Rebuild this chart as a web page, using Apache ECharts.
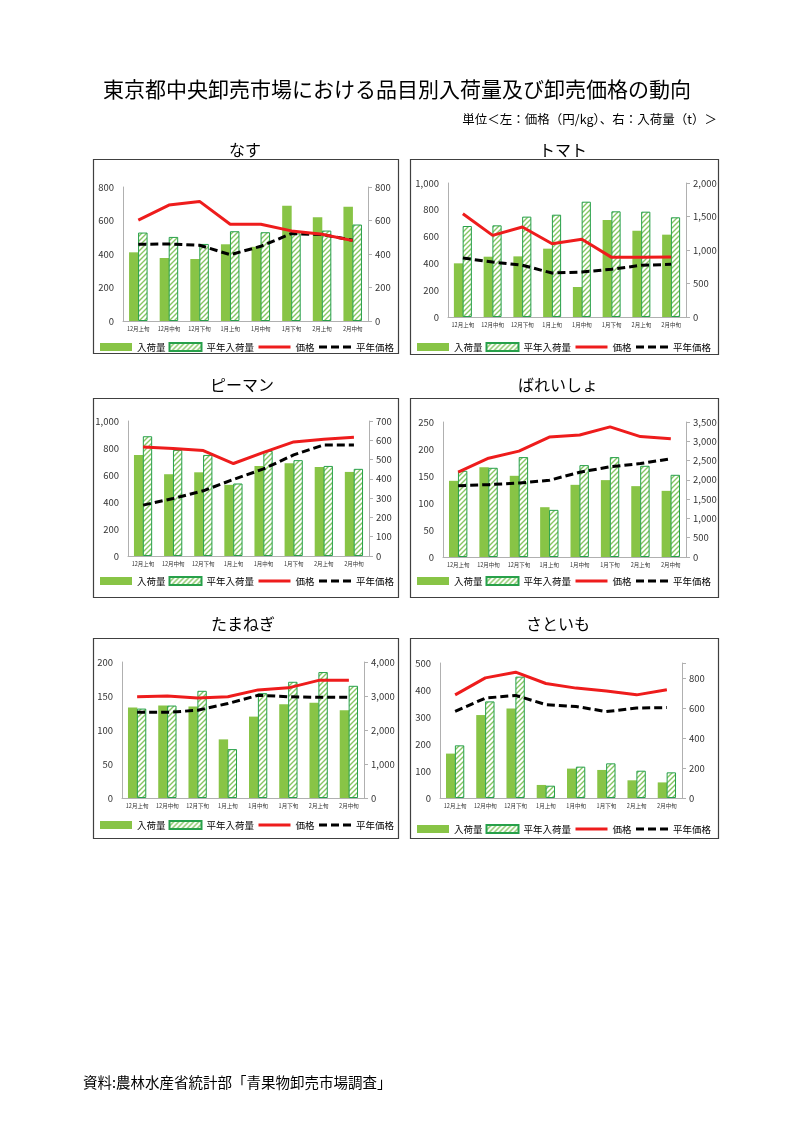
<!DOCTYPE html>
<html><head><meta charset="utf-8">
<script src="https://cdn.jsdelivr.net/npm/echarts@6/dist/echarts.min.js"></script>
<style>html,body{margin:0;padding:0;background:#fff}#c{width:794px;height:1123px}</style>
</head><body><div id="c"></div>
<script>
// ---------- data ----------
const categories = ['12月上旬','12月中旬','12月下旬','1月上旬','1月中旬','1月下旬','2月上旬','2月中旬'];
const seriesNames = ['入荷量','平年入荷量','価格','平年価格'];
const panelTitles = ['なす','トマト','ピーマン','ばれいしょ','たまねぎ','さといも'];
const mainTitle = '東京都中央卸売市場における品目別入荷量及び卸売価格の動向';
const unitText = '単位＜左：価格（円/kg）、右：入荷量（t）＞';
const sourceText = '資料:農林水産省統計部「青果物卸売市場調査」';

// なす
const nasuArrival    = [410,376,370,458,443,688,620,682];
const nasuArrivalAvg = [528,502,460,536,530,523,540,576];
const nasuPrice      = [602,692,714,578,578,538,518,480];
const nasuPriceAvg   = [458,460,452,396,446,522,516,482];
// トマト
const tomatoArrival    = [801,900,905,1020,448,1448,1289,1229];
const tomatoArrivalAvg = [1358,1368,1498,1527,1721,1577,1572,1488];
const tomatoPrice      = [771,609,672,547,580,445,445,448];
const tomatoPriceAvg   = [440,410,386,328,336,356,386,393];
// ピーマン
const pimanArrival    = [524,424,434,369,467,481,462,436];
const pimanArrivalAvg = [621,550,524,376,545,497,467,452];
const pimanPrice      = [808,796,781,685,768,845,865,879];
const pimanPriceAvg   = [377,426,483,567,645,749,823,823];
// ばれいしょ
const potatoArrival    = [1975,2330,2105,1291,1871,1993,1837,1715];
const potatoArrivalAvg = [2235,2313,2590,1222,2382,2590,2365,2131];
const potatoPrice      = [157,183,196,222,226,241,223,219];
const potatoPriceAvg   = [132,134,137,142,157,167,173,182];
// たまねぎ
const onionArrival    = [2660,2719,2690,1724,2394,2759,2798,2581];
const onionArrivalAvg = [2630,2719,3153,1438,3084,3418,3704,3300];
const onionPrice      = [149,150,147,149,159,162,173,173];
const onionPriceAvg   = [126,126,129,139,151,149,148,148];
// さといも
const taroArrival    = [296,553,596,87,196,187,118,104];
const taroArrivalAvg = [351,644,809,82,209,231,182,171];
const taroPrice      = [382,445,466,424,407,396,382,401];
const taroPriceAvg   = [321,370,380,346,339,320,333,335];

// axis ranges [left max, left interval, right max, right interval]
const axisRanges = [
  [800,200,800,200],
  [1000,200,2000,500],
  [1000,200,700,100],
  [250,50,3500,500],
  [200,50,4000,1000],
  [500,100,900,200]
];

const panelData = [
  [nasuArrival,nasuArrivalAvg,nasuPrice,nasuPriceAvg],
  [tomatoArrival,tomatoArrivalAvg,tomatoPrice,tomatoPriceAvg],
  [pimanArrival,pimanArrivalAvg,pimanPrice,pimanPriceAvg],
  [potatoArrival,potatoArrivalAvg,potatoPrice,potatoPriceAvg],
  [onionArrival,onionArrivalAvg,onionPrice,onionPriceAvg],
  [taroArrival,taroArrivalAvg,taroPrice,taroPriceAvg]
];

// ---------- layout ----------
const layout = [
  {box:[93,159,305,194], grid:[123,187,245,134], title:[240,147], legendY:342},
  {box:[410,159,308,195], grid:[448,183,238,134], title:[558,147], legendY:342},
  {box:[93,398,305,199], grid:[128,421,241,135], title:[237,382], legendY:576},
  {box:[410,398,308,199], grid:[443,422,243,135], title:[553,382], legendY:576},
  {box:[93,638,305,200], grid:[122,662,242,136], title:[238,621], legendY:820},
  {box:[410,638,308,200], grid:[440,663,242,135], title:[553,621], legendY:824}
];

const FONT = '"Noto Sans CJK JP","Noto Sans",sans-serif';
const GREEN = '#88c446';
const HATCH_BORDER = '#27a04a';
const RED = '#ee1c1c';

function makeHatch(){
  const c = document.createElement('canvas');
  c.width = 5; c.height = 5;
  const g = c.getContext('2d');
  g.fillStyle = '#ffffff'; g.fillRect(0,0,5,5);
  g.strokeStyle = '#86c663'; g.lineWidth = 1.4;
  g.beginPath();
  g.moveTo(-1,6); g.lineTo(6,-1);
  g.moveTo(-1,1); g.lineTo(1,-1);
  g.moveTo(4,6); g.lineTo(6,4);
  g.stroke();
  return c;
}
const hatch = {image: makeHatch(), repeat: 'repeat'};
const fmt = v => Number(v).toLocaleString('en-US');

const grids=[], xAxes=[], yAxes=[], series=[], legends=[], titles=[], graphics=[];

titles.push({text: mainTitle, left: 'center', top: 74, textStyle:{fontFamily:FONT, fontSize:21, fontWeight:'normal', color:'#000'}});
titles.push({text: unitText, right: 72, top: 108, textStyle:{fontFamily:FONT, fontSize:12.5, fontWeight:'normal', color:'#000'}});
titles.push({text: sourceText, left: 78, top: 1070, textStyle:{fontFamily:FONT, fontSize:14.5, fontWeight:'normal', color:'#000'}});

layout.forEach((L, i) => {
  const [lmax, lint, rmax, rint] = axisRanges[i];
  const d = panelData[i];
  graphics.push({type:'rect', shape:{x:L.box[0]+0.5, y:L.box[1]+0.5, width:L.box[2], height:L.box[3]},
    style:{fill:'none', stroke:'#404040', lineWidth:1.2}, silent:true, z:-1});
  titles.push({text: panelTitles[i], left: L.title[0], top: L.title[1]-10, textAlign:'center',
    textStyle:{fontFamily:FONT, fontSize:16, fontWeight:'normal', color:'#000'}});
  grids.push({left:L.grid[0], top:L.grid[1], width:L.grid[2], height:L.grid[3], outerBoundsMode:'none'});
  xAxes.push({type:'category', gridIndex:i, data:categories, boundaryGap:true,
    axisLine:{lineStyle:{color:'#b0b0b0', width:1}}, axisTick:{show:false},
    axisLabel:{fontFamily:FONT, fontSize:5.5, color:'#333', margin:5, interval:0}});
  yAxes.push({type:'value', gridIndex:i, position:'left', min:0, max:lmax, interval:lint,
    splitLine:{show:false}, axisLine:{show:true, lineStyle:{color:'#b0b0b0'}}, axisTick:{show:false},
    axisLabel:{fontFamily:FONT, fontSize:9.5, color:'#333', margin:9, formatter:fmt}});
  yAxes.push({type:'value', gridIndex:i, position:'right', min:0, max:rmax, interval:rint,
    splitLine:{show:false}, axisLine:{show:true, lineStyle:{color:'#b0b0b0'}},
    axisTick:{show:true, length:4, lineStyle:{color:'#b0b0b0'}},
    axisLabel:{fontFamily:FONT, fontSize:9.5, color:'#333', margin:7,
      formatter: v => (v % rint === 0 ? fmt(v) : '')}});
  const leftIdx = i*2, rightIdx = i*2+1;
  series.push({name:seriesNames[0], type:'bar', xAxisIndex:i, yAxisIndex:rightIdx, data:d[0],
    barWidth:'31%', barGap:'-5%', itemStyle:{color:GREEN}, z:2});
  series.push({name:seriesNames[1], type:'bar', xAxisIndex:i, yAxisIndex:rightIdx, data:d[1],
    barWidth:'31%', barGap:'-5%', itemStyle:{color:hatch, borderColor:HATCH_BORDER, borderWidth:1}, z:3});
  series.push({name:seriesNames[2], type:'line', xAxisIndex:i, yAxisIndex:leftIdx, data:d[2],
    symbol:'none', lineStyle:{color:RED, width:3}, itemStyle:{color:RED}, z:5});
  series.push({name:seriesNames[3], type:'line', xAxisIndex:i, yAxisIndex:leftIdx, data:d[3],
    symbol:'none', lineStyle:{color:'#000', width:3, type:[8,4]}, itemStyle:{color:'#000'}, z:4});
  legends.push({left:L.box[0]+7, top:L.legendY, padding:0, itemWidth:32, itemHeight:8, itemGap:3,
    selectedMode:false,
    textStyle:{fontFamily:FONT, fontSize:9.5, color:'#000'},
    data:[
      {name:seriesNames[0], icon:'rect'},
      {name:seriesNames[1], icon:'rect'},
      {name:seriesNames[2], itemStyle:{opacity:0}, lineStyle:{width:3, color:RED}},
      {name:seriesNames[3], itemStyle:{opacity:0}, lineStyle:{width:3, color:'#000', type:[8,4]}}
    ]});
});

const chart = echarts.init(document.getElementById('c'), null, {renderer:'canvas'});
chart.setOption({
  animation:false,
  backgroundColor:'#fff',
  title:titles, grid:grids, xAxis:xAxes, yAxis:yAxes, series:series, legend:legends,
  graphic:graphics
});
</script>
</body></html>
